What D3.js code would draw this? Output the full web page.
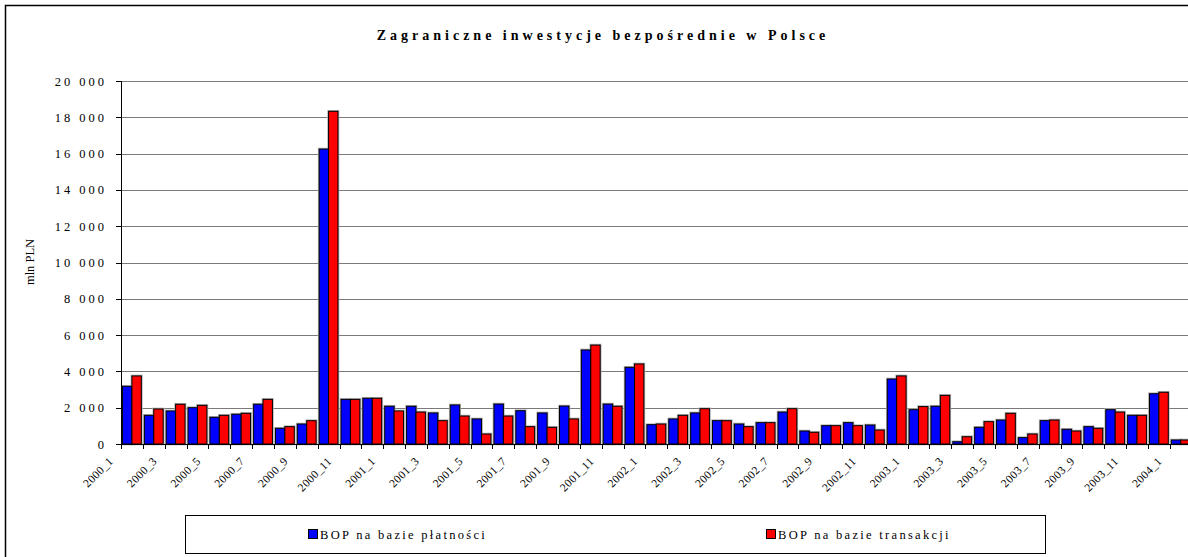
<!DOCTYPE html>
<html><head><meta charset="utf-8">
<script src="https://cdn.jsdelivr.net/npm/d3@7/dist/d3.min.js"></script>
<style>html,body{margin:0;padding:0;background:#fff}svg{display:block}</style>
</head><body><svg id="c" width="1188" height="557"></svg>
<script>
const categories = [
 "2000_1","2000_2","2000_3","2000_4","2000_5","2000_6","2000_7","2000_8","2000_9","2000_10","2000_11","2000_12",
 "2001_1","2001_2","2001_3","2001_4","2001_5","2001_6","2001_7","2001_8","2001_9","2001_10","2001_11","2001_12",
 "2002_1","2002_2","2002_3","2002_4","2002_5","2002_6","2002_7","2002_8","2002_9","2002_10","2002_11","2002_12",
 "2003_1","2003_2","2003_3","2003_4","2003_5","2003_6","2003_7","2003_8","2003_9","2003_10","2003_11","2003_12",
 "2004_1"];
const bopPlatnosci = [3180,1580,1820,2000,1470,1640,2190,865,1100,16250,2460,2520,
 2080,2080,1710,2150,1380,2200,1835,1710,2090,5180,2200,4225,
 1065,1380,1710,1285,1100,1175,1760,715,1010,1175,1045,3580,
 1890,2080,125,920,1320,350,1285,810,955,1890,1580,2770,220];
const bopTransakcji = [3750,1930,2190,2130,1580,1690,2460,955,1285,18330,2460,2520,
 1820,1760,1285,1540,550,1540,955,920,1380,5450,2080,4410,
 1100,1580,1945,1285,955,1175,1945,645,1010,1010,770,3750,
 2060,2680,400,1230,1690,550,1320,715,865,1760,1580,2850,220];
const seriesNames = ["BOP na bazie płatności","BOP na bazie transakcji"];
const seriesColors = ["#0000ff","#ff0000"];
const yTicks = [0,2000,4000,6000,8000,10000,12000,14000,16000,18000,20000];
const tickLabels = categories.filter((d,i)=>i%2===0);
const title = "Zagraniczne inwestycje bezpośrednie w Polsce";
const yTitle = "mln PLN";

const svg = d3.select("#c");
const FONT = "'Liberation Serif','Times New Roman',serif";
const L = 121, R = 121 + 49*21.85, T = 81, B = 444;

svg.append("rect").attr("x",5.5).attr("y",5.5).attr("width",1200).attr("height",600)
  .attr("fill","#fff").attr("stroke","#000").attr("stroke-width",1.5);

const x = d3.scaleBand().domain(categories).range([L,R]).padding(0);
const y = d3.scaleLinear().domain([0,20000]).range([B,T]);
const bw = x.bandwidth();

svg.append("g").selectAll("line").data(yTicks.filter(d=>d>0)).join("line")
  .attr("x1",L).attr("x2",R).attr("y1",d=>Math.round(y(d))+0.5).attr("y2",d=>Math.round(y(d))+0.5)
  .attr("stroke","#7a7a7a").attr("stroke-width",1);

const inner = d3.scaleBand().domain([0,1]).range([bw*0.07, bw*0.93]).padding(0);
const data = [];
categories.forEach((c,i)=>{
  data.push({c, s:0, v:bopPlatnosci[i]});
  data.push({c, s:1, v:bopTransakcji[i]});
});
const gb = svg.append("g");
gb.selectAll("rect.sh").data(data).join("rect").attr("class","sh")
  .attr("x",d=>x(d.c)+inner(d.s)).attr("y",d=>y(d.v))
  .attr("width",inner.bandwidth()).attr("height",d=>B-y(d.v))
  .attr("fill","none").attr("stroke","#b0b0b0").attr("stroke-width",2.6);
gb.selectAll("rect.b").data(data).join("rect").attr("class","b")
  .attr("x",d=>x(d.c)+inner(d.s)).attr("y",d=>y(d.v))
  .attr("width",inner.bandwidth()).attr("height",d=>B-y(d.v))
  .attr("fill",d=>seriesColors[d.s]).attr("stroke","#000").attr("stroke-width",1);

svg.append("line").attr("x1",L).attr("x2",R).attr("y1",B+0.5).attr("y2",B+0.5).attr("stroke","#000");
svg.append("g").selectAll("line").data(d3.range(categories.length+1)).join("line")
  .attr("x1",i=>Math.round(L+i*bw)+0.5).attr("x2",i=>Math.round(L+i*bw)+0.5)
  .attr("y1",B).attr("y2",B+5).attr("stroke","#000");
svg.append("g").selectAll("text").data(tickLabels).join("text")
  .attr("transform",d=>`translate(${x(d)+bw/2-18},${462}) rotate(-45)`)
  .attr("text-anchor","end").attr("font-family",FONT).attr("font-size",11.5).attr("letter-spacing",0.4)
  .text(d=>d);

svg.append("line").attr("x1",L+0.5).attr("x2",L+0.5).attr("y1",T).attr("y2",B).attr("stroke","#000");
svg.append("g").selectAll("line").data(yTicks).join("line")
  .attr("x1",L-5).attr("x2",L).attr("y1",d=>Math.round(y(d))+0.5).attr("y2",d=>Math.round(y(d))+0.5)
  .attr("stroke","#000");
const fmt = d => d3.format(",")(d).replace(/,/g," ");
svg.append("g").selectAll("text").data(yTicks).join("text")
  .attr("x",107).attr("y",d=>y(d)+4.5).attr("text-anchor","end")
  .attr("font-family",FONT).attr("font-size",12.5).attr("letter-spacing",3)
  .text(fmt);
svg.append("text").attr("transform",`translate(34,262) rotate(-90)`).attr("text-anchor","middle")
  .attr("font-family",FONT).attr("font-size",12.5).text(yTitle);

svg.append("text").attr("x",603).attr("y",40).attr("text-anchor","middle")
  .attr("font-family",FONT).attr("font-size",14).attr("font-weight","bold").attr("letter-spacing",4)
  .text(title);

svg.append("rect").attr("x",185.5).attr("y",515.5).attr("width",860).attr("height",38)
  .attr("fill","#fff").attr("stroke","#000").attr("stroke-width",1);
const lx = [308, 766];
const lg = svg.append("g").selectAll("g").data(seriesNames).join("g")
  .attr("transform",(d,i)=>`translate(${lx[i]},529)`);
lg.append("rect").attr("x",0.5).attr("y",0.5).attr("width",9).attr("height",9)
  .attr("fill",(d,i)=>seriesColors[i]).attr("stroke","#000");
lg.append("text").attr("x",12).attr("y",9.5).attr("font-family",FONT).attr("font-size",12.5)
  .attr("letter-spacing",2.3).text(d=>d);
</script></body></html>
